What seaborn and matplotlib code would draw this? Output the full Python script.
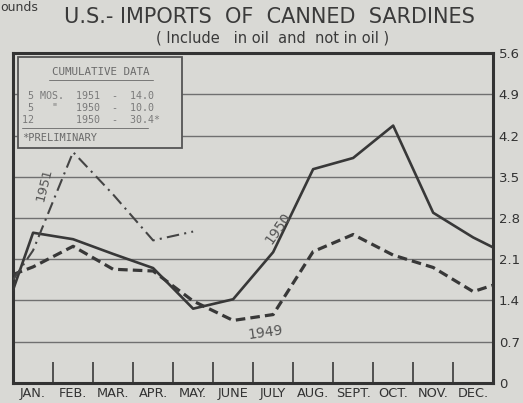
import numpy as np
import pandas as pd
import matplotlib
matplotlib.use("Agg")
import matplotlib.pyplot as plt
import seaborn as sns

# Data (millions of pounds)
month_labels = ["JAN.", "FEB.", "MAR.", "APR.", "MAY.", "JUNE",
                "JULY", "AUG.", "SEPT.", "OCT.", "NOV.", "DEC."]
imports_1949 = [1.97, 2.32, 1.93, 1.90, 1.39, 1.06, 1.16, 2.23, 2.52, 2.17, 1.96, 1.55]
imports_1950 = [2.55, 2.44, 2.19, 1.95, 1.26, 1.42, 2.22, 3.63, 3.82, 4.37, 2.89, 2.47]
imports_1951 = [2.25, 3.92, 3.20, 2.42, 2.57]
# values where the lines meet the left / right frame (prior Dec, next Jan)
edges_1949 = [1.84, 1.66]
edges_1950 = [1.58, 2.30]
edges_1951 = [1.75]
y_ticks = [0, 0.7, 1.4, 2.1, 2.8, 3.5, 4.2, 4.9, 5.6]
y_tick_labels = ["0", "0.7", "1.4", "2.1", "2.8", "3.5", "4.2", "4.9", "5.6"]
cumulative_lines = [" 5 MOS.  1951  -  14.0",
                    " 5   \"   1950  -  10.0",
                    "12       1950  -  30.4*"]


def series(year, values, edges):
    pos = [-0.5] + list(range(len(values)))
    vals = [edges[0]] + list(values)
    if len(edges) > 1:
        pos.append(len(values) - 0.5)
        vals.append(edges[1])
    return pd.DataFrame({"pos": pos, "value": vals, "year": year})


df = pd.concat([
    series("1949", imports_1949, edges_1949),
    series("1950", imports_1950, edges_1950),
    series("1951", imports_1951, edges_1951),
], ignore_index=True)

bg = "#d9d9d5"
ink = "#383838"
sns.set_theme(style="white", rc={"axes.facecolor": bg, "figure.facecolor": bg})
plt.rcParams["font.family"] = ["DejaVu Sans"]

fig = plt.figure(figsize=(5.23, 4.03), dpi=100)
ax = fig.add_axes([0.025, 0.05, 0.918, 0.818])

for v in y_ticks[1:-1]:
    ax.axhline(v, color="#707070", lw=1.0, zorder=1)

sns.lineplot(data=df, x="pos", y="value", hue="year", style="year", size="year",
             palette={"1949": ink, "1950": ink, "1951": "#444444"},
             dashes={"1949": (3, 1.6), "1950": "", "1951": (6, 2.5, 1, 2.5)},
             sizes={"1949": 2.3, "1950": 1.9, "1951": 1.5},
             sort=False, legend=False, ax=ax, zorder=3)

ax.set_xlim(-0.5, 11.5)
ax.set_ylim(0, 5.6)
ax.set_xlabel("")
ax.set_ylabel("")

ax.set_xticks(range(12))
ax.set_xticklabels(month_labels, fontsize=9.3, color="#333333")
ax.set_xticks(np.arange(0.5, 11.5, 1), minor=True)
ax.tick_params(axis="x", which="major", length=0, pad=3)
ax.tick_params(axis="x", which="minor", direction="in", length=15, width=1.2,
               color="#3a3a3a", bottom=True)

ax.yaxis.tick_right()
ax.set_yticks(y_ticks)
ax.set_yticklabels(y_tick_labels, fontsize=9.5, color="#333333")
ax.tick_params(axis="y", length=0, pad=4)

for side in ["left", "right", "top", "bottom"]:
    ax.spines[side].set_visible(True)
    ax.spines[side].set_color("#333333")
    ax.spines[side].set_linewidth(2.2)

# year labels on the lines
ax.text(0.28, 3.37, "1951", rotation=76, fontsize=9.5, color="#555555",
        ha="center", va="center")
ax.text(6.12, 2.62, "1950", rotation=55, fontsize=10, color="#555555",
        ha="center", va="center")
ax.text(5.8, 0.86, "1949", rotation=8, fontsize=10, color="#555555",
        ha="center", va="center")

# cumulative data box
mono = "DejaVu Sans Mono"
box = plt.Rectangle((0.0105, 0.712), 0.341, 0.276, transform=ax.transAxes,
                    facecolor=bg, edgecolor="#555555", lw=1.3, zorder=4)
ax.add_patch(box)
ax.text(0.183, 0.942, "CUMULATIVE DATA", transform=ax.transAxes, fontsize=7.8,
        family=mono, color="#6a6a6a", ha="center", va="center", zorder=5)
ax.plot([0.075, 0.291], [0.918, 0.918], transform=ax.transAxes,
        color="#777777", lw=0.7, zorder=5)
for i, line in enumerate(cumulative_lines):
    ax.text(0.019, 0.869 - i * 0.036, line, transform=ax.transAxes, fontsize=7.2,
            family=mono, color="#7a7a7a", ha="left", va="center", zorder=5)
ax.plot([0.019, 0.281], [0.772, 0.772], transform=ax.transAxes,
        color="#777777", lw=0.7, zorder=5)
ax.text(0.019, 0.742, "*PRELIMINARY", transform=ax.transAxes, fontsize=7.5,
        family=mono, color="#6a6a6a", ha="left", va="center", zorder=5)

fig.text(0.515, 0.957, "U.S.- IMPORTS  OF  CANNED  SARDINES", fontsize=15,
         color="#3a3a3a", ha="center", va="center")
fig.text(0.522, 0.905, "( Include   in oil  and  not in oil )", fontsize=10.5,
         color="#3a3a3a", ha="center", va="center")
fig.text(0.0, 0.998, "ounds", fontsize=9, color="#3a3a3a", ha="left", va="top")

fig.savefig("out.png", dpi=100, facecolor=bg)
